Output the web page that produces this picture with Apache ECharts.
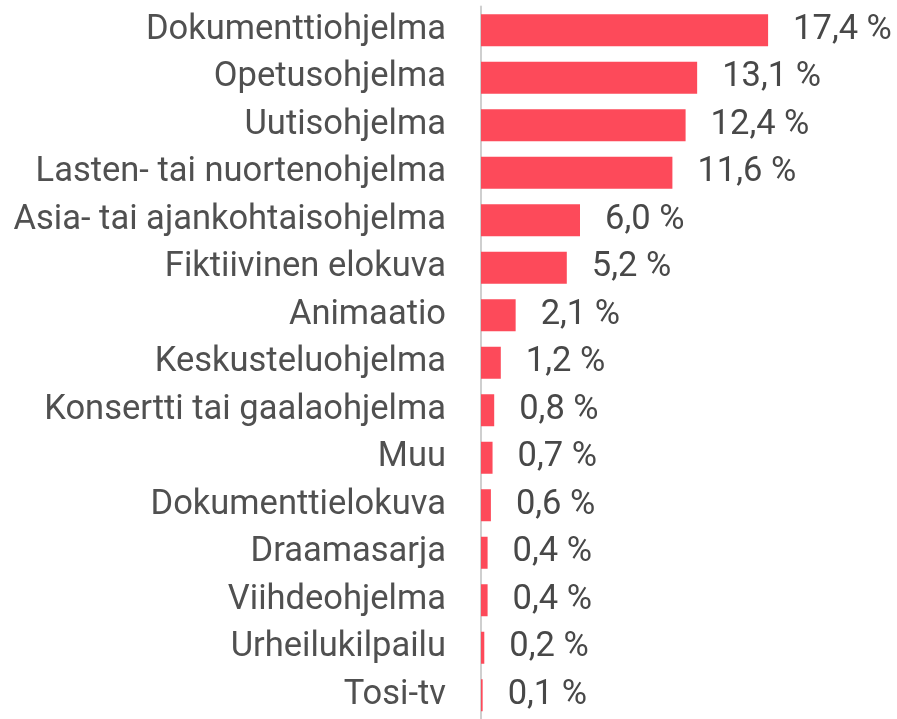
<!DOCTYPE html>
<html>
<head>
<meta charset="utf-8">
<script src="https://cdn.jsdelivr.net/npm/echarts@6/dist/echarts.min.js"></script>
<style>
html, body { margin: 0; padding: 0; background: #fff; }
#chart { width: 897px; height: 719px; }
</style>
</head>
<body>
<div id="chart"></div>
<script>
var categories = ['Dokumenttiohjelma', 'Opetusohjelma', 'Uutisohjelma', 'Lasten- tai nuortenohjelma',
    'Asia- tai ajankohtaisohjelma', 'Fiktiivinen elokuva', 'Animaatio', 'Keskusteluohjelma',
    'Konsertti tai gaalaohjelma', 'Muu', 'Dokumenttielokuva', 'Draamasarja', 'Viihdeohjelma',
    'Urheilukilpailu', 'Tosi-tv'];
var values = [17.4, 13.1, 12.4, 11.6, 6.0, 5.2, 2.1, 1.2, 0.8, 0.7, 0.6, 0.4, 0.4, 0.2, 0.1];

var myChart = echarts.init(document.getElementById('chart'));
var option = {
    animation: false,
    grid: { left: 481, top: 6.5, width: 330, height: 718 },
    xAxis: {
        type: 'value', min: 0, max: 20, show: false
    },
    yAxis: {
        type: 'category',
        inverse: true,
        data: categories,
        axisLine: { show: true, lineStyle: { color: '#cfcfcf', width: 2 } },
        axisTick: { show: false },
        axisLabel: {
            margin: 35,
            color: '#505050',
            fontFamily: 'Roboto',
            fontSize: 34.5
        }
    },
    series: [{
        type: 'bar',
        data: values,
        barWidth: 32,
        itemStyle: { color: '#fd4a5a' },
        label: {
            show: true,
            position: 'right',
            distance: 25,
            color: '#484848',
            fontFamily: 'Roboto',
            fontSize: 34.5,
            formatter: function (p) { return p.value.toFixed(1).replace('.', ',') + ' %'; }
        }
    }]
};
myChart.setOption(option);
</script>
</body>
</html>
